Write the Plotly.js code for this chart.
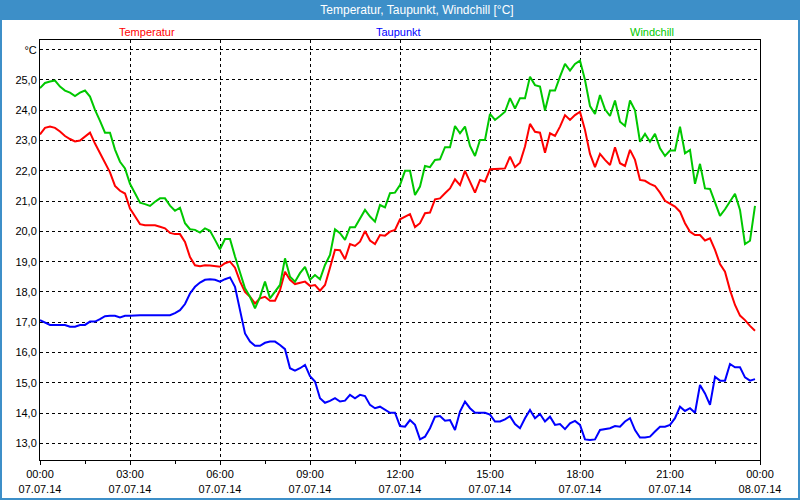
<!DOCTYPE html>
<html>
<head>
<meta charset="utf-8">
<script src="https://cdn.plot.ly/plotly-3.0.1.min.js"></script>
<style>
html,body{margin:0;padding:0;background:#fff;}
#chart{width:800px;height:500px;}
</style>
</head>
<body>
<div id="chart"></div>
<script>
// 10-minute readings, 07.07.14 00:00 .. 23:50
var temperatur = [
23.2,23.42,23.46,23.42,23.3,23.15,23.05,22.97,23.0,23.13,
23.26,22.9,22.6,22.25,21.95,21.5,21.34,21.25,20.75,20.5,
20.24,20.2,20.19,20.2,20.15,20.1,19.95,19.91,19.91,19.65,
19.15,18.88,18.85,18.88,18.87,18.85,18.83,18.95,19.0,18.8,
18.35,18.0,17.84,17.62,17.79,17.84,17.71,17.71,18.06,18.67,
18.40,18.26,18.29,18.34,18.2,18.23,18.04,18.23,18.8,19.39,
19.38,19.08,19.58,19.52,19.66,20.01,19.70,19.58,19.88,19.86,
19.99,20.05,20.40,20.49,20.57,20.14,20.27,20.60,20.62,21.06,
21.09,21.26,21.42,21.72,21.53,22.00,21.64,21.28,21.70,21.64,
22.05,22.07,22.07,22.08,22.47,22.12,22.27,22.80,23.55,23.29,
23.26,22.60,23.24,23.15,23.46,23.84,23.68,23.84,23.95,23.35,
22.56,22.12,22.56,22.36,22.19,22.78,22.25,22.16,22.69,22.36,
21.70,21.67,21.57,21.50,21.28,21.01,20.90,20.82,20.65,20.27,
19.99,19.88,19.88,19.70,19.77,19.39,18.92,18.67,18.06,17.57,
17.22,17.07,16.88,16.72
];
var taupunkt = [
17.07,16.98,16.91,16.91,16.91,16.91,16.85,16.85,16.91,16.91,
17.02,17.02,17.1,17.2,17.21,17.21,17.16,17.21,17.21,17.23,
17.23,17.23,17.23,17.23,17.23,17.23,17.23,17.3,17.4,17.6,
17.95,18.17,18.31,18.40,18.42,18.40,18.34,18.42,18.48,18.17,
17.40,16.63,16.36,16.22,16.22,16.32,16.36,16.36,16.25,16.11,
15.48,15.40,15.48,15.59,15.22,15.04,14.49,14.34,14.40,14.49,
14.38,14.41,14.60,14.49,14.60,14.56,14.27,14.16,14.21,14.10,
14.01,14.01,13.57,13.55,13.77,13.61,13.13,13.22,13.50,13.88,
13.90,13.75,13.77,13.44,14.05,14.38,14.16,14.01,14.01,14.01,
13.95,13.72,13.72,13.79,13.90,13.64,13.50,13.83,14.10,13.83,
13.97,13.72,13.88,13.61,13.64,13.47,13.66,13.74,13.61,13.13,
13.11,13.13,13.44,13.46,13.50,13.57,13.55,13.72,13.83,13.44,
13.19,13.19,13.22,13.39,13.55,13.55,13.61,13.83,14.21,14.07,
14.16,14.01,14.93,14.65,14.27,15.20,15.07,15.07,15.62,15.51,
15.51,15.18,15.07,15.12
];
var windchill = [
24.73,24.9,24.95,24.98,24.78,24.65,24.58,24.47,24.58,24.65,
24.45,24.01,23.65,23.26,23.26,22.7,22.3,22.08,21.57,21.25,
20.95,20.9,20.84,20.98,21.09,21.09,20.85,20.68,20.78,20.27,
20.07,20.05,19.96,20.10,20.02,19.72,19.41,19.75,19.75,19.17,
18.62,18.12,17.84,17.46,17.84,18.34,17.79,18.01,18.23,19.11,
18.50,18.34,18.62,18.83,18.40,18.56,18.42,18.89,19.22,20.07,
19.94,19.72,20.14,20.14,20.43,20.71,20.49,20.32,20.87,20.79,
21.26,21.28,21.53,22.00,22.00,21.20,21.48,22.16,22.12,22.36,
22.38,22.78,22.78,23.48,23.24,23.46,22.82,22.49,23.02,23.02,
23.88,23.68,23.81,23.95,24.40,24.06,24.40,24.40,25.11,24.83,
24.78,23.99,24.65,24.65,25.11,25.53,25.31,25.53,25.64,25.00,
24.14,23.88,24.50,24.03,23.81,24.32,23.62,23.48,24.32,24.00,
22.96,23.22,22.96,23.22,22.74,22.49,22.67,22.67,23.46,22.58,
22.69,21.57,22.23,21.42,21.40,20.93,20.51,20.73,20.98,21.24,
20.71,19.58,19.69,20.84
];
var tickTimes = ["2014-07-07 00:00","2014-07-07 03:00","2014-07-07 06:00","2014-07-07 09:00","2014-07-07 12:00","2014-07-07 15:00","2014-07-07 18:00","2014-07-07 21:00","2014-07-08 00:00"];
var tickLabels = ["00:00<br>07.07.14","03:00<br>07.07.14","06:00<br>07.07.14","09:00<br>07.07.14","12:00<br>07.07.14","15:00<br>07.07.14","18:00<br>07.07.14","21:00<br>07.07.14","00:00<br>08.07.14"];
var yTickVals = [13,14,15,16,17,18,19,20,21,22,23,24,25,26];
var yTickText = ["13,0","14,0","15,0","16,0","17,0","18,0","19,0","20,0","21,0","22,0","23,0","24,0","25,0","°C"];
var seriesNames = ["Temperatur","Taupunkt","Windchill"];
var seriesColors = ["#ff0000","#0000ff","#00c800"];

function pad(n){return (n<10?"0":"")+n;}
var times = [];
for (var k=0;k<temperatur.length;k++){
  var m = k*10;
  times.push("2014-07-07 "+pad(Math.floor(m/60))+":"+pad(m%60));
}

var seriesValues = [temperatur, taupunkt, windchill];
var traces = seriesValues.map(function(v,i){
  return {x: times, y: v, type:'scatter', mode:'lines', name: seriesNames[i],
          line:{color: seriesColors[i], width:2}, showlegend:false, hoverinfo:'x+y'};
});

var font = "Liberation Sans, Arial, sans-serif";
var barColor = "#3d8fc8";
var annotations = seriesNames.map(function(n,i){
  var xs = [0.1486, 0.4986, 0.85];
  return {text:n, xref:'paper', yref:'paper', x: xs[i], y: 1.019, xanchor:'center', yanchor:'middle',
          showarrow:false, font:{family:font, size:11, color: seriesColors[i]}};
});

var layout = {
  width:800, height:500,
  margin:{l:40, r:40, t:40, b:40, pad:0},
  paper_bgcolor:'#ffffff', plot_bgcolor:'#ffffff',
  font:{family:font, size:11, color:'#000000'},
  title:{text:'Temperatur, Taupunkt, Windchill [°C]', font:{family:font, size:12, color:'#ffffff'},
         xref:'container', yref:'container', x:417/800, y:1-10/500, xanchor:'center', yanchor:'middle'},
  xaxis:{type:'date', range:['2014-07-07 00:00','2014-07-08 00:00'],
         tickmode:'array', tickvals: tickTimes, ticktext: tickLabels,
         showgrid:true, gridcolor:'#000000', gridwidth:1, griddash:'3px,3px',
         showline:true, linecolor:'#000000', linewidth:1, mirror:true,
         ticks:'outside', ticklen:4, tickcolor:'#000000',
         minor:{dtick:5400000, tick0:'2014-07-07 00:00', ticks:'outside', ticklen:3, tickcolor:'#000000', showgrid:false},
         tickfont:{family:font, size:11, color:'#000000'}, zeroline:false, fixedrange:true},
  yaxis:{range:[12.45, 26.32], tickmode:'array', tickvals: yTickVals, ticktext: yTickText,
         showgrid:true, gridcolor:'#000000', gridwidth:1, griddash:'3px,3px',
         showline:true, linecolor:'#000000', linewidth:1, mirror:true,
         ticks:'', ticklen:0, zeroline:false,
         tickfont:{family:font, size:11, color:'#000000'}, fixedrange:true},
  shapes:[
    {type:'rect', xref:'paper', yref:'paper', x0:-0.06, x1:1.06, y0:(460-20)/420, y1:1.1,
     fillcolor:barColor, line:{width:0}, layer:'below'},
    {type:'rect', xref:'paper', yref:'paper', x0:-40/720, x1:760/720, y0:-40/420, y1:460/420,
     fillcolor:'rgba(0,0,0,0)', line:{color:barColor, width:4}, layer:'above'}
  ],
  annotations: annotations
};

Plotly.newPlot('chart', traces, layout, {displayModeBar:false, staticPlot:true});
</script>
</body>
</html>
